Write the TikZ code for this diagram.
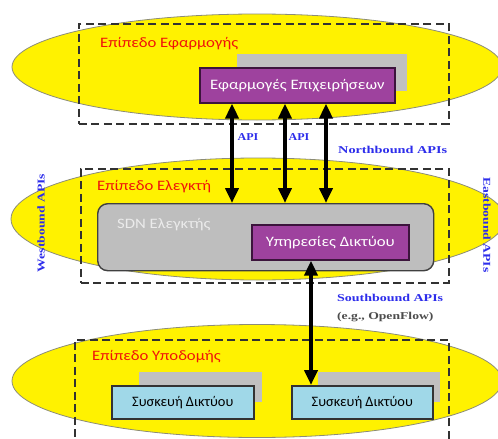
\documentclass[tikz,border=0pt]{standalone}
\usepackage{fontspec}
\setmainfont{Carlito}
\newfontfamily\labelserif{Liberation Serif}
\usetikzlibrary{arrows.meta,shapes.geometric}

\definecolor{planeyellow}{RGB}{255,242,0}
\definecolor{planeedge}{RGB}{140,140,120}
\definecolor{appviolet}{RGB}{158,66,158}
\definecolor{violetedge}{RGB}{60,20,60}
\definecolor{shadowgray}{RGB}{192,192,192}
\definecolor{ctrlgray}{RGB}{190,190,190}
\definecolor{devblue}{RGB}{160,216,232}
\definecolor{apiblue}{RGB}{45,45,235}
\definecolor{titlered}{RGB}{240,20,10}
\definecolor{dashgray}{RGB}{50,50,50}

% wide sans text used inside the planes
\newcommand{\widetext}[1]{\scalebox{1.16}[1]{#1}}

\tikzset{
  plane/.style={ellipse, draw=planeedge, line width=0.8pt, fill=planeyellow, inner sep=0pt},
  layerframe/.style={draw=dashgray, line width=1.6pt, dash pattern=on 8pt off 4.5pt, inner sep=0pt, anchor=north west},
  planetitle/.style={text=titlered, font=\fontsize{14.4}{16}\selectfont, anchor=west, inner sep=0pt},
  shadowbox/.style={fill=shadowgray, inner sep=0pt, anchor=north west},
  violetbox/.style={draw=violetedge, line width=1.6pt, fill=appviolet, text=white, inner sep=0pt, anchor=north west, font=\fontsize{14.4}{16}\selectfont},
  devbox/.style={draw=black!80, line width=1.6pt, fill=devblue, text=black, inner sep=0pt, anchor=north west, font=\fontsize{14.4}{16}\selectfont},
  apilabel/.style={text=apiblue, font=\labelserif\bfseries\fontsize{10.5}{12}\selectfont, inner sep=0pt},
  biarrow/.style={line width=4pt, {Triangle[length=15pt,width=13pt]}-{Triangle[length=15pt,width=13pt]}}
}

\begin{document}
\begin{tikzpicture}[x=1pt,y=-1pt]
\useasboundingbox (0,0) rectangle (498,439);
\clip (0,0) rectangle (498,439);

% three planes
\node[plane, minimum width=490pt, minimum height=106pt] (appplane) at (257,67) {};
\node[plane, minimum width=494pt, minimum height=122pt] (ctlplane) at (258,219) {};
\node[plane, minimum width=490pt, minimum height=113pt] (infplane) at (257,381) {};

% dashed layer frames
\node[layerframe, minimum width=370pt, minimum height=100pt] (appframe) at (78,23) {};
\node[layerframe, minimum width=368pt, minimum height=114pt] (ctlframe) at (80,168) {};
\node[layerframe, minimum width=374pt, minimum height=100pt] (infframe) at (74,339) {};

% plane titles
\node[planetitle] (apptitle) at (100,44) {\widetext{Επίπεδο Εφαρμογής}};
\node[planetitle] (ctltitle) at (97,187) {\widetext{Επίπεδο Ελεγκτή}};
\node[planetitle] (inftitle) at (92,357) {\widetext{Επίπεδο Υποδομής}};

% application layer
\node[shadowbox, minimum width=170pt, minimum height=37pt] (appshadow) at (237,54) {};
\node[violetbox, minimum width=195pt, minimum height=35pt] (apps) at (199,67) {\widetext{Εφαρμογές Επιχειρήσεων}};

% control layer
\node[draw=black!75, line width=1.4pt, fill=ctrlgray, rounded corners=10pt, inner sep=0pt,
      anchor=north west, minimum width=336pt, minimum height=67pt] (sdn) at (97,203) {};
\node[text=white!92!black, font=\fontsize{14.4}{16}\selectfont, anchor=west, inner sep=0pt] (sdnname) at (117,225) {\widetext{SDN Ελεγκτής}};
\node[violetbox, minimum width=157pt, minimum height=35pt] (netsvc) at (251,224) {\widetext{Υπηρεσίες Δικτύου}};

% infrastructure layer
\node[shadowbox, minimum width=123pt, minimum height=30pt] (devshadowa) at (139,372) {};
\node[shadowbox, minimum width=122pt, minimum height=30pt] (devshadowb) at (318,372) {};
\node[devbox, minimum width=142pt, minimum height=33pt] (deva) at (111,385) {Συσκευή Δικτύου};
\node[devbox, minimum width=141pt, minimum height=33pt] (devb) at (291,385) {Συσκευή Δικτύου};

% northbound connections
\coordinate (nba) at (232,0);
\coordinate (nbb) at (285,0);
\coordinate (nbc) at (326,0);
\coordinate (sba) at (311,0);
\draw[biarrow] (apps.south -| nba) -- (sdn.north -| nba);
\draw[biarrow] (apps.south -| nbb) -- (sdn.north -| nbb);
\draw[biarrow] (apps.south -| nbc) -- (sdn.north -| nbc);

% southbound connection
\draw[biarrow] (netsvc.south -| sba) -- (devb.north -| sba);

% interface labels
\node[apilabel] (apia) at (248,137) {\scalebox{1.15}[1]{API}};
\node[apilabel] (apib) at (299,137) {\scalebox{1.15}[1]{API}};
\node[apilabel, anchor=west] (north) at (338,150) {\scalebox{1.36}[1]{Northbound APIs}};
\node[apilabel, anchor=west] (south) at (337,298) {\scalebox{1.33}[1]{Southbound APIs}};
\node[apilabel, anchor=west, text=black!70] (openflow) at (337,317) {\scalebox{1.3}[1]{(e.g., OpenFlow)}};
\node[apilabel, rotate=90] (west) at (41,223) {\scalebox{1.3}[1]{Westbound APIs}};
\node[apilabel, rotate=-90] (east) at (487,225) {\scalebox{1.3}[1]{Eastbound APIs}};
\end{tikzpicture}
\end{document}
